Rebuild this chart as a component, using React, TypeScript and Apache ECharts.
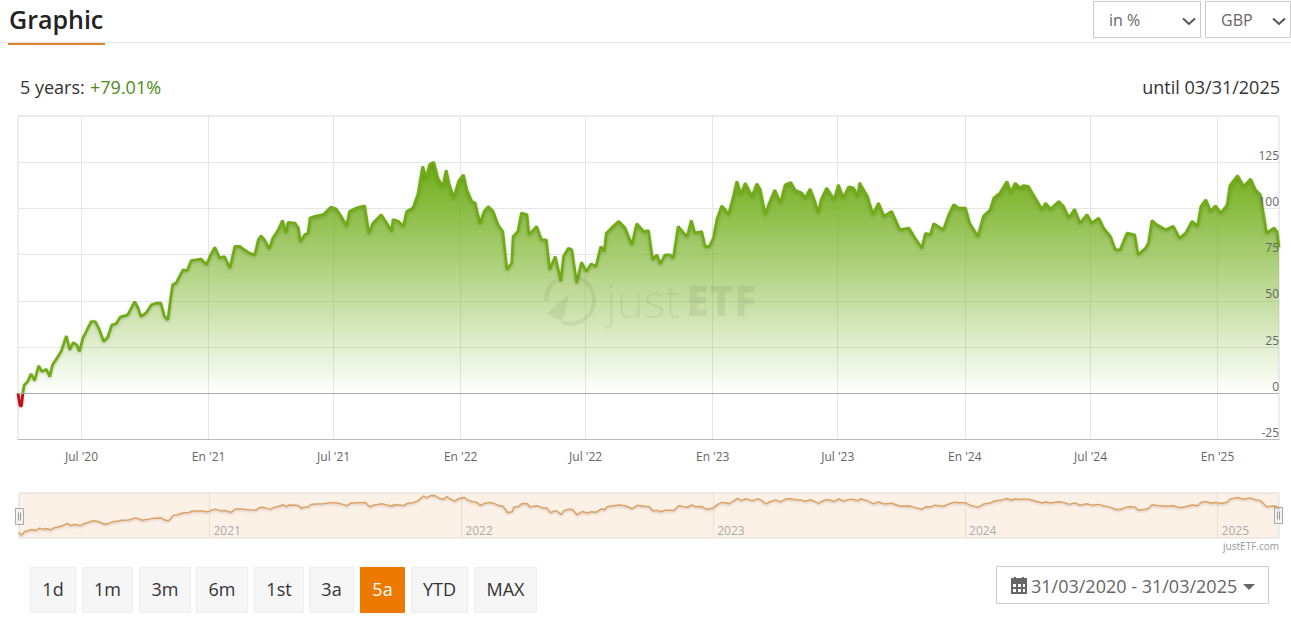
import React, { useEffect, useRef } from "react";
import * as echarts from "echarts";

const FONT = '"Open Sans", sans-serif';

const startDate = "2020-03-31";
const endDate = "2025-03-31";

const daysSinceStart = [
  0, 1, 3, 5, 7, 9, 14, 19, 24, 30, 35, 41, 46, 50, 58, 63, 70, 75, 80, 85, 89, 94, 100, 106, 112, 118, 124, 130, 136, 142, 148, 159, 169, 174, 178, 186, 193, 200, 207, 212, 217, 221, 224, 229, 234, 239, 245, 251, 258, 265, 273, 278, 285, 292, 299, 307, 314, 321, 328, 335, 343, 348, 352, 357, 364, 369, 377, 383, 388, 391, 401, 406, 409, 415, 420, 423, 430, 442, 453, 461, 468, 476, 480, 490, 502, 508, 514, 526, 534, 541, 543, 551, 558, 563, 572, 579, 586, 591, 596,
  602, 608, 615, 620, 624, 631, 638, 645, 650, 657, 662, 669, 675, 681, 688, 695, 702, 708, 715, 717, 724, 729, 737, 740, 751, 758, 765, 770, 778, 786, 790, 797, 802, 809, 816, 823, 830, 837, 844, 849, 852, 862, 870, 879, 889, 896, 906, 913, 919, 925, 930, 937, 944, 949, 956, 964, 969, 975, 980, 990, 995, 1001, 1007, 1012, 1019, 1024, 1029, 1036, 1041, 1047, 1053, 1063, 1070, 1075, 1082, 1088, 1096, 1104, 1111, 1119, 1125, 1135, 1140, 1147, 1153, 1159, 1163, 1171, 1182, 1188, 1195, 1203, 1210, 1216, 1219,
  1220, 1230, 1238, 1246, 1254, 1265, 1277, 1290, 1299, 1309, 1314, 1321, 1326, 1340, 1348, 1355, 1362, 1372, 1378, 1390, 1398, 1408, 1413, 1422, 1432, 1438, 1444, 1451, 1456, 1463, 1476, 1483, 1488, 1495, 1507, 1514, 1522, 1530, 1538, 1548, 1555, 1565, 1572, 1582, 1589, 1596, 1606, 1617, 1622, 1633, 1637, 1642, 1649, 1662, 1673, 1682, 1691, 1700, 1708, 1713, 1720, 1727, 1734, 1742, 1751, 1755, 1766, 1775, 1785, 1792, 1799, 1808, 1819, 1823, 1826,
];

const changePct = [
  0, 0, -6.8, -6.8, 0, 4.5, 6.3, 10.5, 6.9, 14.8, 11.7, 13, 9, 15.3, 19.9, 23.1, 31, 23.5, 27.4, 26.2, 22.6, 29.8, 34.3, 38.8, 38.8, 34.3, 28, 30.3, 37, 37.5, 41.2, 42.4, 49.6, 46, 41.5, 43.7, 47.8, 48.7, 48.7, 41.5, 39.7, 51, 58.7, 59.6, 63.2, 66.8, 66.4, 71.8, 72.2, 72.6, 69.5, 74, 78.9, 73.1, 74, 67.7, 79.4, 79.4, 77.6, 75.8, 74.9, 83, 85.2, 83, 78, 83.9, 88.4, 93.5, 86.6, 92.4, 92.1, 89.4, 82, 85.7, 86.6, 94.8, 95.7, 96.6, 100.7, 99.6, 95.7, 90.3, 98.4, 100.2, 101.4, 86.6, 92, 96.6, 92, 87.5, 93.9, 93, 90.3, 98.4, 100.2, 107.4, 122.7, 116.4, 123.6,
  125, 116.4, 111.6, 120.6, 113.7, 105.6, 114.6, 118.2, 110, 103.8, 102.9, 91.7, 98.4, 101, 98.4, 91.2, 87.5, 66.8, 70.4, 84.8, 87.5, 97.5, 96.6, 85.7, 90.3, 83, 83, 66.8, 74, 60.5, 74, 78.5, 77.6, 59.6, 70.8, 65.9, 70, 68.6, 79.4, 76.7, 86.6, 90.3, 93, 89.4, 80.3, 91.7, 87.5, 88, 72.2, 74.9, 69.9, 74.9, 74.9, 73.1, 90.3, 86.6, 84.8, 93.5, 86.6, 87.5, 79.4, 79.4, 83.9, 93.9, 101.4, 99.3, 96.6, 106.5, 114.6, 107.4, 113.7, 106.5, 113.4, 110, 96.6, 102.9, 110, 102.9, 112.8, 114, 110, 108.3, 105.6, 110.5, 104.7, 97.5, 104.7, 111, 104.7, 112.8, 105.6, 111.6, 111, 106.5, 114,
  112.8, 106.5, 96.6, 102.9, 95.7, 98.4, 88.4, 89.4, 83.9, 78.5, 86.6, 85.7, 91.7, 88.4, 96.6, 102, 100.2, 100.2, 92, 84.8, 95.7, 99.3, 105.6, 108.3, 114.6, 108.7, 113.7, 111, 112.3, 111.9, 103.8, 99.3, 102.9, 99.6, 103.8, 101, 94.8, 99.6, 92, 96.6, 92, 94.8, 89.4, 84.8, 77.6, 77.6, 86.6, 85.7, 74.9, 78.5, 81.2, 93.5, 91.2, 88.4, 90.3, 83.9, 86.6, 93, 90.3, 101, 104.7, 98.4, 101.4, 97.5, 102, 112.3, 117.7, 111.9, 115.9, 110, 107.4, 86.6, 89.4, 87.5, 79.01,
];

const tickDates = ["2020-07-01", "2021-01-01", "2021-07-01", "2022-01-01", "2022-07-01", "2023-01-01", "2023-07-01", "2024-01-01", "2024-07-01", "2025-01-01"];
const tickLabels = ["Jul '20", "En '21", "Jul '21", "En '22", "Jul '22", "En '23", "Jul '23", "En '24", "Jul '24", "En '25"];
const yearDates = ["2021-01-01", "2022-01-01", "2023-01-01", "2024-01-01", "2025-01-01"];
const yearLabels = ["2021", "2022", "2023", "2024", "2025"];

const rangeButtons = ["1d", "1m", "3m", "6m", "1st", "3a", "5a", "YTD", "MAX"];
const activeButton = "5a";
const buttonEdges = [[30, 76], [82, 133], [139, 191], [196, 248], [254, 304], [309, 354], [360, 405], [411, 468], [474, 537]];

const DAY = 86400000;
const dayOf = (d: string) => Math.round((Date.parse(d + "T00:00:00Z") - Date.parse(startDate + "T00:00:00Z")) / DAY);
const points = daysSinceStart.map((d, i) => [d, changePct[i]]);
const tickDays = tickDates.map(dayOf);
const yearDays = yearDates.map(dayOf);

const text = (x: number, y: number, t: string, font: string, fill: string, align = "left", z = 5) => ({
  type: "text", x, y, z, silent: true,
  style: { text: t, font, fill, align, verticalAlign: "middle" },
});
const rect = (x: number, y: number, w: number, h: number, fill: string, stroke?: string, z = 4, lineWidth = 1) => ({
  type: "rect", z, silent: true,
  shape: { x, y, width: w, height: h },
  style: { fill, stroke: stroke ?? "none", lineWidth },
});
const chevron = (x: number) => ({
  type: "polyline", z: 5, silent: true,
  shape: { points: [[x, 18.5], [x + 6, 24], [x + 12, 18.5]] },
  style: { fill: "none", stroke: "#555", lineWidth: 2 },
});
const handle = (x: number, y: number) => ({
  type: "group", z: 10, silent: true,
  children: [
    { type: "rect", shape: { x, y, width: 8, height: 16 }, style: { fill: "#f2f2f2", stroke: "#aaa", lineWidth: 1 } },
    { type: "line", shape: { x1: x + 3, y1: y + 4, x2: x + 3, y2: y + 12 }, style: { stroke: "#999" } },
    { type: "line", shape: { x1: x + 5, y1: y + 4, x2: x + 5, y2: y + 12 }, style: { stroke: "#999" } },
  ],
});

const WM = "rgba(0,0,0,0.06)";
const graphics: any[] = [
  // header
  text(9, 19, "Graphic", `600 25px ${FONT}`, "#222"),
  rect(0, 42, 1291, 1, "#e6e6e6"),
  rect(8, 43, 97, 2, "#dd8430"),
  rect(1093.5, 1.5, 107, 36, "#fff", "#ccc"),
  rect(1205.5, 1.5, 85, 36, "#fff", "#ccc"),
  text(1109, 20, "in %", `16px ${FONT}`, "#666"),
  text(1221, 20, "GBP", `16px ${FONT}`, "#666"),
  chevron(1183),
  chevron(1273),
  text(20, 87, "5 years: ", `18px ${FONT}`, "#333"),
  text(90, 87, "+79.01%", `18px ${FONT}`, "#4c8a22"),
  text(1280, 87, "until 03/31/2025", `18px ${FONT}`, "#333", "right"),
  // watermark
  { type: "arc", z: 6, silent: true, shape: { cx: 570, cy: 300, r: 24, startAngle: -1.3, endAngle: 1.9, clockwise: true }, style: { fill: "none", stroke: WM, lineWidth: 4 } },
  { type: "arc", z: 6, silent: true, shape: { cx: 570, cy: 300, r: 24, startAngle: 3.1, endAngle: 4.1, clockwise: true }, style: { fill: "none", stroke: WM, lineWidth: 4 } },
  { type: "polygon", z: 6, silent: true, shape: { points: [[547, 313], [570, 293], [562, 322]] }, style: { fill: WM } },
  text(606, 300, "just", `300 46px ${FONT}`, WM, "left", 6),
  text(686, 299, "ETF", `800 42px ${FONT}`, WM, "left", 6),
  // navigator
  handle(15.5, 508.5),
  handle(1274.5, 507.5),
  text(1279, 545.5, "justETF.com", `10px ${FONT}`, "#999", "right"),
  // date picker
  rect(996.5, 566.5, 272, 37, "#fff", "#ccc"),
  rect(1011, 580, 16, 14, "#666"),
  rect(1011, 578, 16, 3, "#666"),
  rect(1014, 577, 2, 3, "#666"),
  rect(1022, 577, 2, 3, "#666"),
  rect(1013, 584, 3, 3, "#fff", undefined, 5),
  rect(1018, 584, 3, 3, "#fff", undefined, 5),
  rect(1023, 584, 2, 3, "#fff", undefined, 5),
  rect(1013, 589, 3, 3, "#fff", undefined, 5),
  rect(1018, 589, 3, 3, "#fff", undefined, 5),
  rect(1023, 589, 2, 3, "#fff", undefined, 5),
  text(1031, 586, "31/03/2020 - 31/03/2025", `18px ${FONT}`, "#666"),
  { type: "polygon", z: 5, silent: true, shape: { points: [[1243, 584], [1255, 584], [1249, 590]] }, style: { fill: "#666" } },
];

rangeButtons.forEach((label, i) => {
  const [a, b] = buttonEdges[i];
  const on = label === activeButton;
  graphics.push(rect(a + 0.5, 567.5, b - a - 1, 45, on ? "#ec7a00" : "#f6f6f6", on ? "#ec7a00" : "#eeeeee"));
  graphics.push(text((a + b) / 2, 589, label, `18px ${FONT}`, on ? "#fff" : "#333", "center"));
});

export default function App() {
  const ref = useRef<HTMLDivElement>(null);
  useEffect(() => {
    document.body.style.margin = "0";
    document.body.style.overflow = "hidden";
    const chart = echarts.init(ref.current!, undefined, { renderer: "svg" });
    chart.setOption({
      animation: false,
      backgroundColor: "#fff",
      textStyle: { fontFamily: FONT },
      grid: [
        { left: 18, top: 116, width: 1261, height: 323.5, show: true, borderColor: "#dcdcdc", borderWidth: 1, backgroundColor: "transparent" },
        { left: 19, top: 493, width: 1260, height: 45, show: true, borderColor: "#dddddd", borderWidth: 1, backgroundColor: "#fcf1e7" },
      ],
      xAxis: [
        {
          type: "value", gridIndex: 0, min: dayOf(startDate), max: dayOf(endDate),
          axisLine: { onZero: false, lineStyle: { color: "#bbb" } },
          axisTick: { show: false, customValues: tickDays },
          axisLabel: {
            customValues: tickDays, color: "#666", fontSize: 12, fontFamily: FONT, margin: 11, hideOverlap: false,
            formatter: (v: number) => tickLabels[tickDays.indexOf(v)] ?? "",
          },
          splitLine: { show: true, lineStyle: { color: "#e6e6e6", width: 1 } },
        },
        {
          type: "value", gridIndex: 1, min: dayOf(startDate), max: dayOf(endDate),
          axisLine: { show: false, onZero: false },
          axisTick: { show: false, customValues: yearDays },
          axisLabel: {
            customValues: yearDays, inside: true, color: "#aaa", fontSize: 12, fontFamily: FONT, margin: 2, align: "left", padding: [0, 0, 0, 4], hideOverlap: false,
            formatter: (v: number) => yearLabels[yearDays.indexOf(v)] ?? "",
          },
          splitLine: { show: true, lineStyle: { color: "#eadfd3", width: 1 } },
        },
      ],
      yAxis: [
        {
          type: "value", gridIndex: 0, position: "right", min: -25, max: 150, interval: 25,
          axisLine: { show: false }, axisTick: { show: false }, axisLabel: { show: false },
          splitLine: { show: true, lineStyle: { color: "#e6e6e6", width: 1 } },
        },
        { type: "value", gridIndex: 1, min: -18, max: 133, show: false, splitLine: { show: false } },
        {
          type: "value", gridIndex: 0, position: "right", min: -25, max: 150, interval: 25, z: 5,
          axisLine: { show: false }, axisTick: { show: false }, splitLine: { show: false },
          axisLabel: {
            inside: true, color: "#666", fontSize: 12, fontFamily: FONT, margin: 0, verticalAlign: "bottom", padding: [0, 0, 1, 0], showMaxLabel: false,
            formatter: (v: number) => (v === 150 ? "" : String(v)),
          },
        },
      ],
      visualMap: [{
        type: "piecewise", show: false, seriesIndex: 0, dimension: 1,
        pieces: [{ min: -1000, max: 0, color: "#c40d14" }, { min: 0, max: 1000, color: "#6fab15" }],
      }],
      series: [
        {
          type: "line", xAxisIndex: 0, yAxisIndex: 0, data: points, showSymbol: false, symbol: "none", z: 3,
          lineStyle: { width: 2.8, shadowColor: "rgba(0,0,0,0.2)", shadowBlur: 3, shadowOffsetY: 1 },
          areaStyle: {
            origin: 0,
            opacity: 1,
            color: new echarts.graphic.LinearGradient(0, 162, 0, 393, [
              { offset: 0, color: "rgba(110,172,20,1)" },
              { offset: 1, color: "rgba(110,172,20,0)" },
            ], true),
          },
          markLine: {
            silent: true, symbol: "none", animation: false, label: { show: false },
            lineStyle: { color: "#aaa", width: 1, type: "solid" },
            data: [{ yAxis: 0 }],
          },
        },
        {
          type: "line", xAxisIndex: 1, yAxisIndex: 1, data: points, showSymbol: false, symbol: "none",
          lineStyle: { width: 1.5, color: "#dda263", shadowColor: "rgba(0,0,0,0.2)", shadowBlur: 2, shadowOffsetY: 1 },
        },
      ],
      graphic: graphics,
    });
    return () => chart.dispose();
  }, []);
  return <div ref={ref} style={{ width: 1291, height: 628 }} />;
}
